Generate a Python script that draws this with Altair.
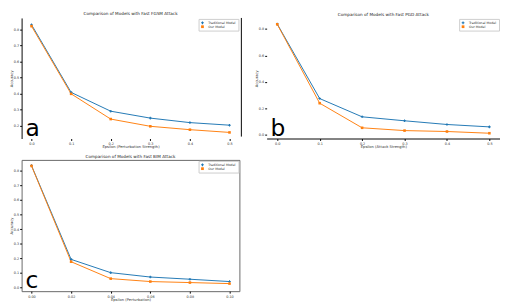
import altair as alt
import pandas as pd

models = ["Traditional Model", "Our Model"]
colors = ["#1f77b4", "#ff7f0e"]

fgsm_eps = [0.0, 0.1, 0.2, 0.3, 0.4, 0.5]
fgsm_trad = [0.828, 0.407, 0.290, 0.247, 0.219, 0.203]
fgsm_ours = [0.819, 0.398, 0.241, 0.196, 0.175, 0.158]

pgd_eps = [0.0, 0.1, 0.2, 0.3, 0.4, 0.5]
pgd_trad = [0.837, 0.274, 0.136, 0.106, 0.078, 0.060]
pgd_ours = [0.835, 0.239, 0.053, 0.032, 0.025, 0.012]

bim_eps = [0.00, 0.02, 0.04, 0.06, 0.08, 0.10]
bim_trad = [0.836, 0.193, 0.102, 0.072, 0.057, 0.041]
bim_ours = [0.834, 0.177, 0.061, 0.041, 0.034, 0.027]

FONT = "DejaVu Sans"


def axis(values, fmt, title, domain_line):
    return alt.Axis(values=values, format=fmt, title=title, grid=False,
                    domain=domain_line, domainColor="#000", tickColor="#000",
                    tickSize=2, labelFontSize=3.5, titleFontSize=3.8,
                    labelPadding=1, titlePadding=0, labelColor="#333",
                    titleColor="#333", titleFontWeight="normal", labelFont=FONT,
                    titleFont=FONT)


def legend():
    return alt.Legend(title=None, orient="top-right", labelFontSize=3.3,
                      labelFont=FONT, symbolSize=8, symbolStrokeWidth=1,
                      rowPadding=0, padding=2, offset=1,
                      strokeColor="#ccc", fillColor="white",
                      labelColor="#333", labelLimit=60)


def panel(eps, trad, ours, xfmt, ydomain, yticks, title, xtitle, letter,
          w, h, ydomain_line, xdomain_line, box, sep):
    df = pd.DataFrame({
        "eps": eps + eps,
        "acc": trad + ours,
        "model": [models[0]] * len(eps) + [models[1]] * len(eps),
    })
    rng = eps[-1] - eps[0]
    xdom = [eps[0] - 0.05 * rng, eps[-1] + 0.05 * rng]
    x = alt.X("eps:Q", scale=alt.Scale(domain=xdom, nice=False, zero=False),
              axis=axis(eps, xfmt, xtitle, xdomain_line))
    y = alt.Y("acc:Q", scale=alt.Scale(domain=ydomain, nice=False, zero=False),
              axis=axis(yticks, ".1f", "Accuracy", ydomain_line))
    cscale = alt.Scale(domain=models, range=colors)
    sscale = alt.Scale(domain=models, range=["cross", "square"])
    base = alt.Chart(df)
    line = base.mark_line(strokeWidth=1).encode(
        x=x, y=y, color=alt.Color("model:N", scale=cscale, legend=None))
    pts = base.mark_point(filled=True, size=7, opacity=1).encode(
        x=x, y=y,
        color=alt.Color("model:N", scale=cscale, legend=legend()),
        shape=alt.Shape("model:N", scale=sscale, legend=legend()))
    lt = alt.Chart(pd.DataFrame({"t": [letter]})).mark_text(
        fontSize=24, font=FONT, align="left", baseline="alphabetic", color="#000"
    ).encode(text="t:N", x=alt.value(4), y=alt.value(h - 3))
    layers = [line, pts, lt]
    if sep:
        sr = alt.Chart(pd.DataFrame({"a": [0]})).mark_rule(
            color="#000", strokeWidth=1).encode(
            x=alt.value(w + 2), y=alt.value(0), y2=alt.value(h - 2))
        layers.append(sr)
    props = dict(width=w, height=h,
                 title=alt.TitleParams(title, fontSize=4.3, font=FONT,
                                       fontWeight="normal", color="#222", offset=1))
    if box:
        props["view"] = alt.ViewBackground(stroke="#666", strokeWidth=1)
    ch = alt.layer(*layers).properties(**props).resolve_scale(
        color="independent", shape="independent")
    return ch


a = panel(fgsm_eps, fgsm_trad, fgsm_ours, ".1f", [0.12, 0.87],
          [0.2, 0.3, 0.4, 0.5, 0.6, 0.7, 0.8],
          "Comparison of Models with Fast FGSM Attack", "Epsilon (Perturbation Strength)",
          "a", 224, 124, True, False, False, True)
b = panel(pgd_eps, pgd_trad, pgd_ours, ".1f", [-0.028, 0.883],
          [0.0, 0.2, 0.4, 0.6, 0.8],
          "Comparison of Models with Fast PGD Attack", "Epsilon (Attack Strength)",
          "b", 240, 124, False, True, False, False)
c = panel(bim_eps, bim_trad, bim_ours, ".2f", [-0.025, 0.875],
          [0.0, 0.1, 0.2, 0.3, 0.4, 0.5, 0.6, 0.7, 0.8],
          "Comparison of Models with Fast BIM Attack", "Epsilon (Perturbation)",
          "c", 224, 135, False, False, True, False)

top = alt.hconcat(a, b, spacing=12)
chart = alt.vconcat(top, c, spacing=5).properties(padding=0).configure_view(
    stroke=None
)

chart.save("out.html", embed_options={"renderer": "svg", "actions": False})
